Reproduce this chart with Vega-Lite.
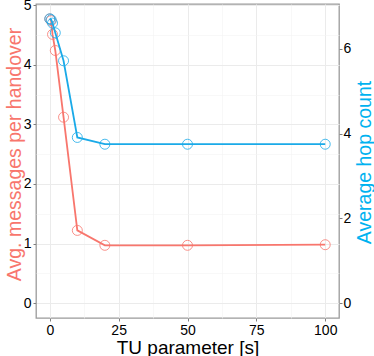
{
  "$schema": "https://vega.github.io/schema/vega-lite/v6.json",
  "width": 303,
  "height": 314,
  "autosize": {"type": "none"},
  "padding": {"left": 36, "top": 4, "right": 35, "bottom": 38},
  "background": "white",
  "config": {
    "font": "Liberation Sans",
    "view": {"stroke": "#9a9a9a", "strokeWidth": 1.3},
    "axis": {
      "labelFont": "Liberation Sans",
      "titleFont": "Liberation Sans",
      "labelFontSize": 14,
      "titleFontSize": 19.5,
      "titleFontWeight": "normal",
      "labelColor": "#000000",
      "tickColor": "#7f7f7f",
      "tickSize": 3,
      "domain": false
    }
  },
  "data": {
    "values": [
      {"tu": 0, "msg": 4.77, "hop": 6.71},
      {"tu": 0.5, "msg": 4.74, "hop": 6.69},
      {"tu": 1, "msg": 4.51, "hop": 6.61},
      {"tu": 2, "msg": 4.24, "hop": 6.38},
      {"tu": 5, "msg": 3.12, "hop": 5.72},
      {"tu": 10, "msg": 1.22, "hop": 3.91},
      {"tu": 20, "msg": 0.97, "hop": 3.75},
      {"tu": 50, "msg": 0.97, "hop": 3.75},
      {"tu": 100, "msg": 0.98, "hop": 3.75}
    ]
  },
  "encoding": {
    "x": {
      "field": "tu",
      "type": "quantitative",
      "scale": {"domain": [-5, 105], "nice": false, "zero": false},
      "axis": {
        "title": "TU parameter [s]",
        "titleColor": "#000000",
        "titleFontSize": 19,
        "values": [0, 12.5, 25, 37.5, 50, 62.5, 75, 87.5, 100],
        "labelExpr": "datum.value % 25 === 0 ? format(datum.value, 'd') : ''",
        "tickOpacity": {"condition": {"test": "datum.value % 25 !== 0", "value": 0}, "value": 1},
        "gridColor": {"condition": {"test": "datum.value % 25 !== 0", "value": "#f4f4f4"}, "value": "#ebebeb"},
        "gridWidth": {"condition": {"test": "datum.value % 25 !== 0", "value": 0.6}, "value": 1},
        "labelPadding": 2,
        "titlePadding": 1
      }
    }
  },
  "layer": [
    {
      "layer": [
        {"mark": {"type": "line", "color": "#F8766D", "strokeWidth": 1.8}},
        {"mark": {"type": "point", "shape": "circle", "filled": false, "color": "#F8766D", "size": 100, "strokeWidth": 0.8, "opacity": 1}}
      ],
      "encoding": {
        "y": {
          "field": "msg",
          "type": "quantitative",
          "scale": {"domain": [-0.25, 5.02], "nice": false, "zero": false},
          "axis": {
            "title": "Avg. messages per handover",
            "titleColor": "#F8766D",
            "orient": "left",
            "values": [0, 0.5, 1, 1.5, 2, 2.5, 3, 3.5, 4, 4.5, 5],
            "labelExpr": "datum.value % 1 === 0 ? format(datum.value, 'd') : ''",
            "tickOpacity": {"condition": {"test": "datum.value % 1 !== 0", "value": 0}, "value": 1},
            "gridColor": {"condition": {"test": "datum.value % 1 !== 0", "value": "#f4f4f4"}, "value": "#ebebeb"},
            "gridWidth": {"condition": {"test": "datum.value % 1 !== 0", "value": 0.6}, "value": 1},
            "labelPadding": 2,
            "titleAngle": 270,
            "titleBaseline": "middle",
            "titleAlign": "center",
            "titleX": -22,
            "titleY": 150
          }
        }
      }
    },
    {
      "layer": [
        {"mark": {"type": "line", "color": "#1AAAE8", "strokeWidth": 1.8}},
        {"mark": {"type": "point", "shape": "circle", "filled": false, "color": "#1AAAE8", "size": 100, "strokeWidth": 0.8, "opacity": 1}}
      ],
      "encoding": {
        "y": {
          "field": "hop",
          "type": "quantitative",
          "scale": {"domain": [-0.352, 7.06], "nice": false, "zero": false},
          "axis": {
            "title": "Average hop count",
            "titleColor": "#00B2F0",
            "orient": "right",
            "values": [0, 2, 4, 6],
            "grid": false,
            "labelPadding": 1,
            "titleAngle": 270,
            "titleBaseline": "middle",
            "titleAlign": "center",
            "titleX": 25,
            "titleY": 158
          }
        }
      }
    }
  ],
  "resolve": {"scale": {"y": "independent"}}
}
